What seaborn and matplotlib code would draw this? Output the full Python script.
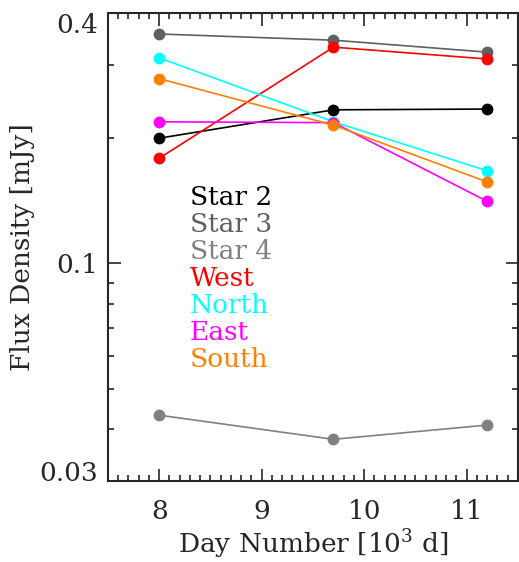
import numpy as np
import pandas as pd
import seaborn as sns
import matplotlib.pyplot as plt
from matplotlib.ticker import LogLocator, NullFormatter, MultipleLocator

# data
days = [8.0, 9.7, 11.2]
names = ["Star 2", "Star 3", "Star 4", "West", "North", "East", "South"]
star2 = [0.200, 0.234, 0.235]
star3 = [0.356, 0.344, 0.322]
star4 = [0.0432, 0.0378, 0.0409]
west = [0.179, 0.331, 0.310]
north = [0.312, 0.219, 0.167]
east = [0.219, 0.218, 0.141]
south = [0.278, 0.215, 0.157]
colors = ["black", "#606060", "#808080", "red", "cyan", "magenta", "#FF7F00"]

series = [star2, star3, star4, west, north, east, south]
df = pd.DataFrame({
    "day": days * len(names),
    "flux": np.concatenate(series),
    "source": np.repeat(names, len(days)),
})

sns.set_style("ticks")
plt.rcParams["font.family"] = ["DejaVu Serif"]
plt.rcParams["mathtext.fontset"] = "dejavuserif"

fig = plt.figure(figsize=(5.19, 5.62), dpi=100)
ax = fig.add_axes([0.208, 0.144, 0.790, 0.833])

sns.lineplot(data=df, x="day", y="flux", hue="source", hue_order=names,
             palette=dict(zip(names, colors)), marker="o", markersize=8.5,
             markeredgewidth=0, linewidth=1.2, legend=False, ax=ax)

ax.set_yscale("log")
ax.set_xlim(7.5, 11.5)
ax.set_ylim(0.03, 0.4)
ax.set_xticks([8, 9, 10, 11])
ax.xaxis.set_minor_locator(MultipleLocator(0.1))
ax.set_yticks([0.03, 0.1, 0.4])
ax.set_yticklabels(["0.03", "0.1", "0.4"])
ax.yaxis.set_minor_locator(LogLocator(base=10, subs=np.arange(2, 10)))
ax.yaxis.set_minor_formatter(NullFormatter())

ax.tick_params(which="both", direction="in", top=True, right=True,
               labelsize=19, width=1.2)
ax.tick_params(axis="x", pad=13)
ax.tick_params(axis="y", pad=7)
ax.tick_params(which="major", length=9)
ax.tick_params(which="minor", length=4.5)
ylabs = ax.get_yticklabels()
ylabs[0].set_va("baseline")
ylabs[-1].set_va("top")
for s in ax.spines.values():
    s.set_linewidth(1.5)

ax.set_xlabel(r"Day Number [10$^3$ d]", fontsize=19, labelpad=2.5)
ax.set_ylabel("Flux Density [mJy]", fontsize=19, labelpad=3)

# coloured labels instead of legend
for i, (n, c) in enumerate(zip(names, colors)):
    ax.text(0.2, 0.606 - i * 0.0578, n, color=c, fontsize=19,
            transform=ax.transAxes, va="center")

fig.savefig("out.png", dpi=100)
